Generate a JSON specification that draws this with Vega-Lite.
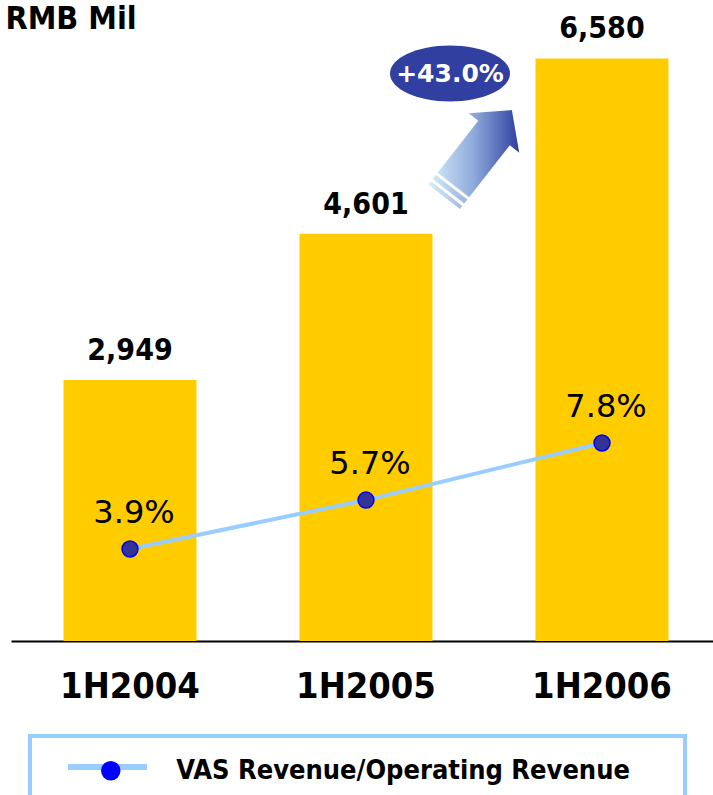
{
  "$schema": "https://vega.github.io/schema/vega-lite/v6.json",
  "width": 710,
  "height": 641,
  "autosize": "none",
  "padding": {"left": 11, "top": 0, "right": 0, "bottom": 154},
  "background": "white",
  "config": {"view": {"stroke": null}, "legend": {"strokeWidth": 4}},
  "datasets": {
    "main": [
      {"period": "1H2004", "revenue": 2949, "revenue_label": "2,949", "ratio": 3.9, "ratio_label": "3.9%", "series": "VAS Revenue/Operating Revenue", "marker": "VAS Revenue/Operating Revenue"},
      {"period": "1H2005", "revenue": 4601, "revenue_label": "4,601", "ratio": 5.7, "ratio_label": "5.7%", "series": "VAS Revenue/Operating Revenue", "marker": "VAS Revenue/Operating Revenue"},
      {"period": "1H2006", "revenue": 6580, "revenue_label": "6,580", "ratio": 7.8, "ratio_label": "7.8%", "series": "VAS Revenue/Operating Revenue", "marker": "VAS Revenue/Operating Revenue"}
    ],
    "growth": [
      {"period": "1H2006", "revenue": 6580, "growth": "+43.0%"}
    ]
  },
  "layer": [
    {
      "encoding": {
        "x": {
          "field": "period", "type": "nominal",
          "scale": {"domain": ["1H2004", "1H2005", "1H2006"], "paddingInner": 0.4364, "paddingOuter": 0.2225},
          "axis": {"title": null, "labelAngle": 0, "labelFont": "DejaVu Sans Condensed, DejaVu Sans", "labelFontSize": 36, "labelFontWeight": "bold", "labelColor": "black", "labelPadding": 28, "ticks": false, "tickSize": 0, "domainColor": "black", "domainWidth": 2, "grid": false}
        },
        "y": {
          "field": "revenue", "type": "quantitative",
          "scale": {"domain": [0, 7240], "nice": false, "zero": true},
          "axis": {"title": "RMB Mil", "titleAngle": 0, "titleX": -6, "titleY": 28, "titleAlign": "left", "titleBaseline": "alphabetic", "titleFont": "DejaVu Sans Condensed, DejaVu Sans", "titleFontSize": 32, "titleFontWeight": "bold", "titleColor": "black", "labels": false, "ticks": false, "domain": false, "grid": false}
        }
      },
      "layer": [
        {"data": {"name": "main"}, "mark": {"type": "bar", "color": "#ffcc00"}},
        {"data": {"name": "main"}, "mark": {"type": "text", "font": "DejaVu Sans Condensed, DejaVu Sans", "fontSize": 30, "fontWeight": "bold", "color": "black", "baseline": "alphabetic", "dy": -20},
         "encoding": {"text": {"field": "revenue_label"}}},
        {"data": {"name": "growth"},
         "mark": {"type": "point", "shape": "M-40.39,19.21L0.25,-32.8L-9.21,-40.19L33.86,-43.34L41.23,-0.79L31.77,-8.18L-8.87,43.83ZM-45.31,25.51L-42.24,21.57L-10.72,46.19L-13.79,50.13ZM-49.62,31.03L-47.16,27.88L-15.64,52.5L-18.1,55.65Z",
                  "size": 4, "filled": true, "opacity": 1, "strokeWidth": 0, "xOffset": -124, "yOffset": 95,
                  "fill": {"gradient": "linear", "x1": 0, "y1": 0, "x2": 1, "y2": 0, "stops": [{"offset": 0, "color": "#d9eefb"}, {"offset": 0.5, "color": "#8eaadb"}, {"offset": 1, "color": "#2e3f9f"}]}}},
        {"data": {"name": "growth"},
         "mark": {"type": "point", "shape": "M-60,0A60,28 0 1,1 60,0A60,28 0 1,1 -60,0Z", "size": 4, "filled": true, "opacity": 1, "fill": "#3140a0", "strokeWidth": 0, "xOffset": -152, "yOffset": 15}},
        {"data": {"name": "growth"},
         "mark": {"type": "text", "font": "DejaVu Sans", "fontSize": 25, "fontWeight": "bold", "color": "white", "baseline": "alphabetic", "dx": -152, "dy": 24},
         "encoding": {"text": {"field": "growth"}}}
      ]
    },
    {
      "data": {"name": "main"},
      "encoding": {
        "x": {"field": "period", "type": "nominal"},
        "y": {"field": "ratio", "type": "quantitative", "scale": {"domain": [0.515, 24.1], "nice": false, "zero": false}, "axis": null}
      },
      "layer": [
        {"mark": {"type": "line", "strokeWidth": 4},
         "encoding": {"stroke": {"field": "series", "type": "nominal", "scale": {"range": ["#99ccff"]},
           "legend": {"orient": "none", "legendX": 19, "legendY": 736, "title": null, "symbolType": "stroke", "symbolSize": 6241, "symbolStrokeWidth": 6, "clipHeight": 28, "padding": 17, "symbolOffset": 18, "labelOffset": 27, "labelFont": "DejaVu Sans Condensed, DejaVu Sans", "labelFontSize": 29.2, "labelFontWeight": "bold", "labelColor": "rgba(0,0,0,0)", "labelLimit": 0, "strokeColor": "#99ccff", "zindex": 1}}}},
        {"mark": {"type": "point", "filled": true, "fill": "#0000ff", "strokeWidth": 0, "size": 254, "opacity": 1},
         "encoding": {"shape": {"field": "marker", "type": "nominal", "scale": {"range": ["circle"]},
           "legend": {"orient": "none", "legendX": 86.25, "legendY": 757.25, "title": null, "symbolSize": 380, "symbolStrokeWidth": 0, "padding": 0, "labelOffset": 52, "labelFont": "DejaVu Sans Condensed, DejaVu Sans", "labelFontSize": 27, "labelFontWeight": "bold", "labelColor": "black", "labelLimit": 0, "zindex": 2}}}},
        {"mark": {"type": "point", "filled": true, "fill": "#333399", "stroke": "#0000ff", "strokeWidth": 1.5, "size": 254, "opacity": 1}},
        {"mark": {"type": "text", "font": "DejaVu Sans", "fontSize": 32, "color": "black", "baseline": "alphabetic", "dy": -26, "dx": 4},
         "encoding": {"text": {"field": "ratio_label"}}}
      ]
    }
  ],
  "resolve": {"scale": {"y": "independent"}, "axis": {"y": "independent"}}
}
